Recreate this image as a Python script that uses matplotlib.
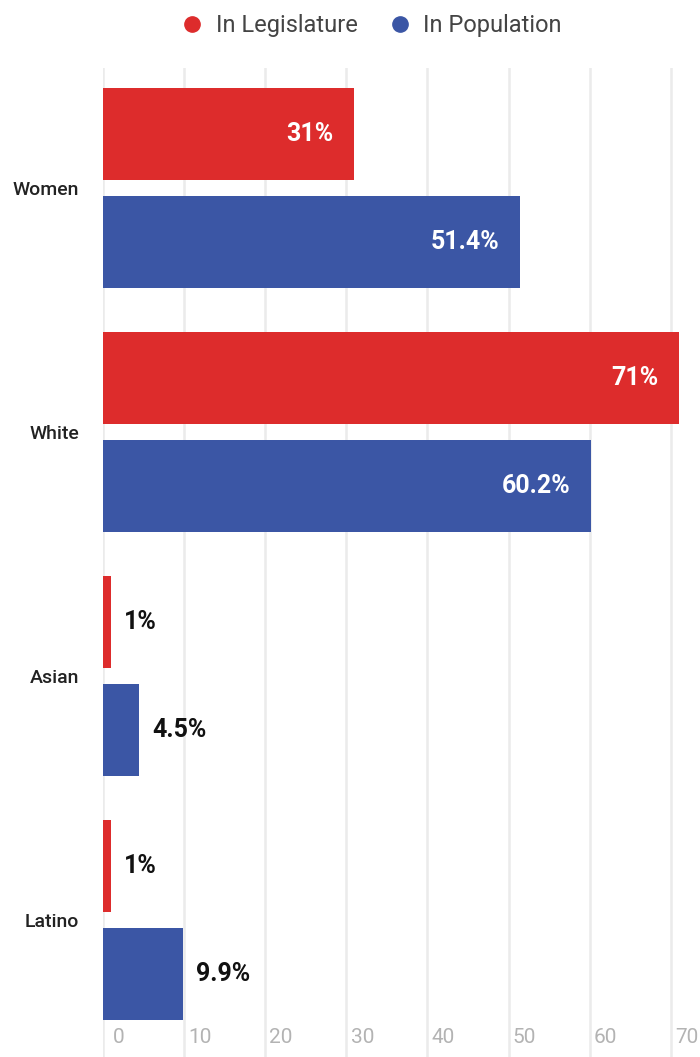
import matplotlib.pyplot as plt
from matplotlib.lines import Line2D
from matplotlib.transforms import ScaledTranslation

plt.rcParams['font.family'] = ['Roboto', 'DejaVu Sans']

# datos
categorias = ["Women", "White", "Asian", "Latino"]
legislatura = [31, 71, 1, 1]
poblacion = [51.4, 60.2, 4.5, 9.9]
etiquetas_leg = ["31%", "71%", "1%", "1%"]
etiquetas_pob = ["51.4%", "60.2%", "4.5%", "9.9%"]
ticks_x = [0, 10, 20, 30, 40, 50, 60, 70]

rojo = "#DD2C2C"
azul = "#3B56A5"

fig = plt.figure(figsize=(7, 10.57), dpi=100)
ax = fig.add_axes([0.147, 0.0, 0.853, 1 - 68 / 1057])

y = list(range(len(categorias)))
off = 0.221
alto = 0.377
y_leg = [v - off for v in y]
y_pob = [v + off for v in y]

ax.barh(y_leg, legislatura, height=alto, color=rojo, zorder=2)
ax.barh(y_pob, poblacion, height=alto, color=azul, zorder=2)

# etiquetas de valor: dentro si la barra es grande, fuera si es pequeña
for yy, val, txt in zip(y_leg + y_pob, legislatura + poblacion, etiquetas_leg + etiquetas_pob):
    if val > 20:
        ax.annotate(txt, (val, yy), xytext=(-15, 0), textcoords="offset points",
                    ha="right", va="center", color="white", fontsize=18, fontweight="bold")
    else:
        ax.annotate(txt, (val, yy), xytext=(9, 0), textcoords="offset points",
                    ha="left", va="center", color="#111111", fontsize=18, fontweight="bold")

ax.set_xlim(0, 73.6)
ax.set_ylim(3.561, -0.492)
ax.set_xticks(ticks_x)
ax.set_xticklabels([str(t) for t in ticks_x])
ax.tick_params(axis="x", length=0, pad=-21, labelsize=15, labelcolor="#b3b3b3")
for lab in ax.get_xticklabels():
    lab.set_transform(lab.get_transform() + ScaledTranslation(0.16, 0, fig.dpi_scale_trans))
ax.set_yticks(y)
ax.set_yticklabels(categorias, fontsize=14, fontweight="medium", color="#222222")
ax.tick_params(axis="y", length=0, pad=17)
ax.grid(axis="x", color="#ebebeb", linewidth=1.8, zorder=0)
for s in ax.spines.values():
    s.set_visible(False)

# leyenda
manejadores = [
    Line2D([], [], marker="o", linestyle="", color=rojo, markersize=11),
    Line2D([], [], marker="o", linestyle="", color=azul, markersize=11),
]
fig.legend(manejadores, ["In Legislature", "In Population"], loc="center",
           bbox_to_anchor=(0.525, 0.976), ncol=2, frameon=False, fontsize=17,
           labelcolor="#444444", handletextpad=0.2, handlelength=1.6, columnspacing=1.0)

fig.savefig("out.png", dpi=100)
